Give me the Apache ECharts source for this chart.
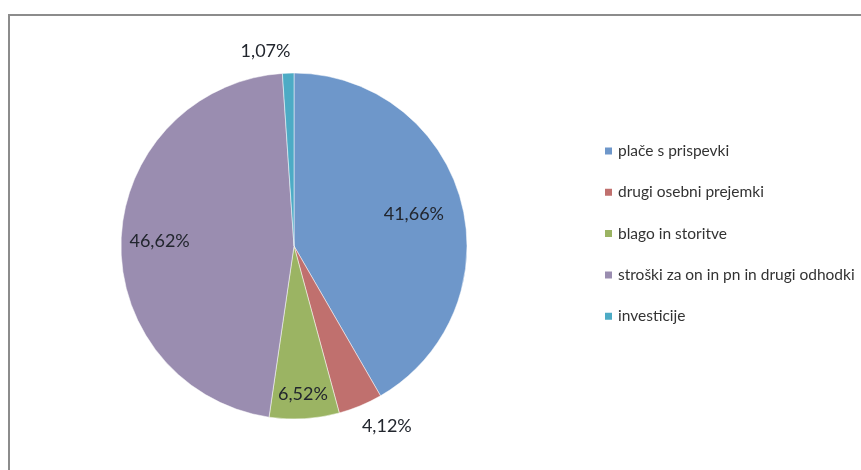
<!DOCTYPE html>
<html>
<head>
<meta charset="utf-8">
<script src="https://cdn.jsdelivr.net/npm/echarts@6/dist/echarts.min.js"></script>
<style>
html,body{margin:0;padding:0;background:#fff;}
#main{width:861px;height:470px;}
</style>
</head>
<body>
<div id="main"></div>
<script>
var names = ['plače s prispevki', 'drugi osebni prejemki', 'blago in storitve', 'stroški za on in pn in drugi odhodki', 'investicije'];
var values = [41.66, 4.12, 6.52, 46.62, 1.07];
var colors = ['#6e97ca', '#c0706e', '#9bb463', '#9a8db0', '#4dabc5'];

var R = 173;
var center = [294, 246];

function fmt(p) {
    return p.value.toFixed(2).replace('.', ',') + '%';
}

// labels outside the pie: drugi osebni prejemki, investicije
var outsideShow = [false, true, false, false, true];
var outsideLen2 = [0, -7, 0, 0, -3];

// invisible rings only used to place the inner labels at a given radius
function ghost(innerFrac, showIdx) {
    return {
        type: 'pie',
        radius: [R * innerFrac, R],
        center: center,
        silent: true,
        animation: false,
        tooltip: {show: false},
        legendHoverLink: false,
        itemStyle: {color: 'rgba(0,0,0,0)'},
        emphasis: {disabled: true},
        label: {
            show: true,
            position: 'inner',
            formatter: fmt,
            color: '#22262e',
            fontFamily: 'Lato',
            fontSize: 18
        },
        labelLine: {show: false},
        data: names.map(function (n, i) {
            return {name: n + ' ', value: values[i], label: {show: showIdx.indexOf(i) >= 0}};
        })
    };
}

var chart = echarts.init(document.getElementById('main'));
var option = {
    backgroundColor: '#fff',
    animation: false,
    color: colors,
    graphic: [{
        type: 'rect',
        shape: {x: 9, y: 15, width: 900, height: 500},
        style: {fill: 'none', stroke: '#8c8c8c', lineWidth: 2},
        silent: true
    }],
    legend: {
        orient: 'vertical',
        left: 598,
        top: 138,
        itemWidth: 9,
        itemHeight: 9,
        itemGap: 25.3,
        icon: 'rect',
        data: names,
        textStyle: {fontFamily: 'Lato', fontSize: 15.5, color: '#333', lineHeight: 16}
    },
    series: [
        {
            type: 'pie',
            radius: R,
            center: center,
            startAngle: 90,
            clockwise: true,
            avoidLabelOverlap: false,
            itemStyle: {borderColor: '#fff', borderWidth: 0.5},
            label: {
                show: true,
                position: 'outside',
                formatter: fmt,
                distanceToLabelLine: 0,
                color: '#22262e',
                fontFamily: 'Lato',
                fontSize: 18
            },
            labelLine: {show: false, length: 22, length2: 0},
            data: names.map(function (n, i) {
                return {
                    name: n,
                    value: values[i],
                    label: {show: outsideShow[i]},
                    labelLine: {show: false, length2: outsideLen2[i]}
                };
            })
        },
        ghost(0.40, [0]),
        ghost(0.52, [3]),
        ghost(0.68, [2])
    ]
};
chart.setOption(option);
</script>
</body>
</html>
